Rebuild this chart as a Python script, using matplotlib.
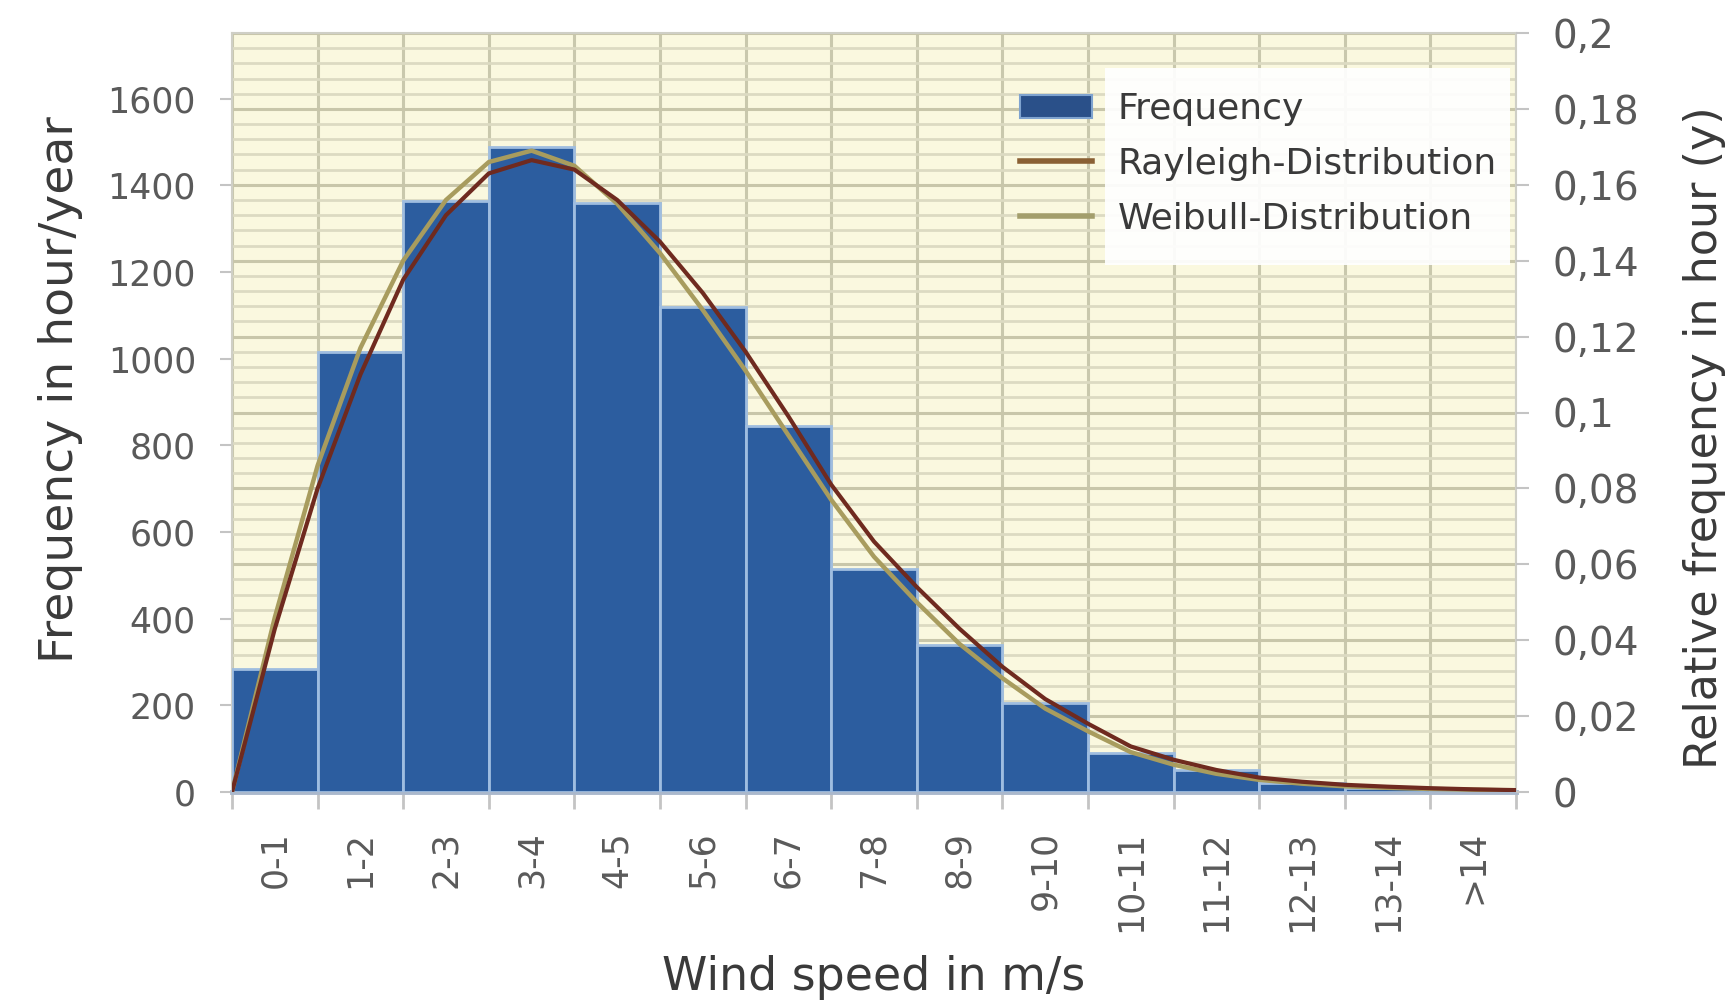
import matplotlib
matplotlib.use("Agg")
import matplotlib.pyplot as plt
import numpy as np
from matplotlib.patches import Rectangle, Patch
from matplotlib.lines import Line2D

plt.rcParams['font.family'] = ['DejaVu Sans']

# ---------------- data ----------------
categories = ['0-1', '1-2', '2-3', '3-4', '4-5', '5-6', '6-7', '7-8', '8-9',
              '9-10', '10-11', '11-12', '12-13', '13-14', '>14']
hours = [285, 1016, 1365, 1490, 1360, 1120, 845, 515, 340, 205, 90, 50, 20, 10, 5]

speed = [0, 0.5, 1, 1.5, 2, 2.5, 3, 3.5, 4, 4.5, 5, 5.5, 6, 6.5, 7, 7.5,
         8, 8.5, 9, 9.5, 10, 10.5, 11, 11.5, 12, 12.5, 13, 13.5, 14, 14.5, 15]
rayleigh = [0, 0.043, 0.080, 0.110, 0.135, 0.152, 0.163, 0.1665, 0.164, 0.156,
            0.145, 0.1315, 0.116, 0.099, 0.081, 0.066, 0.054, 0.043, 0.033,
            0.0245, 0.018, 0.012, 0.0085, 0.0058, 0.0038, 0.0027, 0.0019,
            0.0014, 0.0010, 0.0007, 0.0005]
weibull = [0, 0.046, 0.086, 0.117, 0.140, 0.156, 0.166, 0.169, 0.165, 0.155,
           0.142, 0.127, 0.111, 0.094, 0.077, 0.062, 0.050, 0.039, 0.030,
           0.022, 0.016, 0.0105, 0.0072, 0.0048, 0.0032, 0.0022, 0.0015,
           0.0011, 0.0008, 0.0006, 0.0004]

left_ticks = [0, 200, 400, 600, 800, 1000, 1200, 1400, 1600]
right_ticks = [0, 0.02, 0.04, 0.06, 0.08, 0.10, 0.12, 0.14, 0.16, 0.18, 0.20]
right_labels = ['0', '0,02', '0,04', '0,06', '0,08', '0,1', '0,12', '0,14',
                '0,16', '0,18', '0,2']
HOURS_PER_YEAR = 8760
series_names = ['Frequency', 'Rayleigh-Distribution', 'Weibull-Distribution']

# ---------------- style ----------------
W, H = 1729, 1008
bg = '#faf8df'
bar_color = '#2c5d9f'
bar_edge = '#9fbde0'
ray_color = '#6f2a1f'
wei_color = '#a89c5e'
tick_col = '#5a5a5a'
label_col = '#3a3a3a'

fig = plt.figure(figsize=(W / 100, H / 100), dpi=100)
fig.patch.set_facecolor('white')
L, R, T, B = 232, 1516, 33, 792
ax = fig.add_axes([L / W, 1 - B / H, (R - L) / W, (B - T) / H])
ax.set_facecolor(bg)
ax.set_axisbelow(True)

n = len(categories)
centers = np.arange(n) + 0.5
edges = np.arange(n + 1)
ax.bar(centers, hours, width=1.0, color=bar_color, edgecolor=bar_edge,
       linewidth=2, zorder=3)
ax.set_xlim(0, n)
ymax = 0.2 * HOURS_PER_YEAR
ax.set_ylim(0, ymax)

# x ticks: labels at bar centres, tick marks at bar edges
ax.set_xticks(centers)
ax.set_xticklabels(categories, rotation=90, fontsize=25, color=tick_col)
ax.tick_params(axis='x', which='major', length=0, pad=28)
ax.set_xticks(edges, minor=True)
ax.tick_params(axis='x', which='minor', length=12, width=2, color='#c4c4c4')
ax.grid(which='minor', axis='x', color='#c9c8ad', linewidth=2.2, zorder=0.5)

# left y axis
ax.set_yticks(left_ticks)
ax.set_yticklabels([str(v) for v in left_ticks], fontsize=25, color=tick_col)
ax.tick_params(axis='y', which='major', length=9, width=1.5, color='#c4c4c4', pad=17)
minor_y = np.array([0.004 * k for k in range(0, 51)]) * HOURS_PER_YEAR
ax.set_yticks(minor_y, minor=True)
ax.tick_params(axis='y', which='minor', length=0)
ax.grid(which='minor', axis='y', color='#dcdac2', linewidth=2.0, zorder=0.5)
ax.hlines(np.array(right_ticks) * HOURS_PER_YEAR, 0, n, color='#c8c6aa',
          linewidth=2.2, zorder=0.6)

for s in ['left', 'top', 'right']:
    ax.spines[s].set_color('#cfcfc6')
    ax.spines[s].set_linewidth(1.5)
ax.spines['bottom'].set_color('#aab8cc')
ax.spines['bottom'].set_linewidth(3.5)

# secondary axis with the fitted distributions
ax2 = ax.twinx()
ax2.plot(speed, weibull, color=wei_color, linewidth=3.2, zorder=4,
         solid_capstyle='round')
ax2.plot(speed, rayleigh, color=ray_color, linewidth=3.0, zorder=5,
         solid_capstyle='round')
ax2.set_ylim(0, 0.2)
ax2.set_xlim(0, n)
ax2.set_yticks(right_ticks)
ax2.set_yticklabels(right_labels, fontsize=28, color=tick_col)
ax2.tick_params(axis='y', length=9, width=1.5, color='#c4c4c4', pad=17)
for s in ax2.spines.values():
    s.set_visible(False)

# axis titles
fig.text(61 / W, 1 - 390 / H, 'Frequency in hour/year', rotation=90,
         ha='center', va='center', fontsize=34, color=label_col)
fig.text(1704 / W, 1 - 438 / H, 'Relative frequency in hour (y)', rotation=90,
         ha='center', va='center', fontsize=32, color=label_col)
fig.text(874 / W, 1 - 978 / H, 'Wind speed in m/s', ha='center', va='center',
         fontsize=33, color=label_col)

# legend
fig.patches.append(Rectangle((1105 / W, 1 - 265 / H), (1510 - 1105) / W,
                             (265 - 68) / H, transform=fig.transFigure,
                             facecolor='white', edgecolor='none', alpha=0.92,
                             zorder=2))
handles = [Patch(facecolor='#2a5089', edgecolor='#7fa3cf', linewidth=1.5),
           Line2D([], [], color='#8a6034', linewidth=4),
           Line2D([], [], color='#a39e6c', linewidth=4)]
leg = fig.legend(handles, series_names, loc='upper left',
                 bbox_to_anchor=(1020 / W, 1 - 92 / H), frameon=False,
                 fontsize=26, handlelength=2.0, handleheight=0.6,
                 handletextpad=0.7, labelspacing=0.57, borderpad=0,
                 borderaxespad=0)
for t in leg.get_texts():
    t.set_color(label_col)
leg.set_zorder(6)

fig.savefig('out.png', dpi=100, facecolor='white')
